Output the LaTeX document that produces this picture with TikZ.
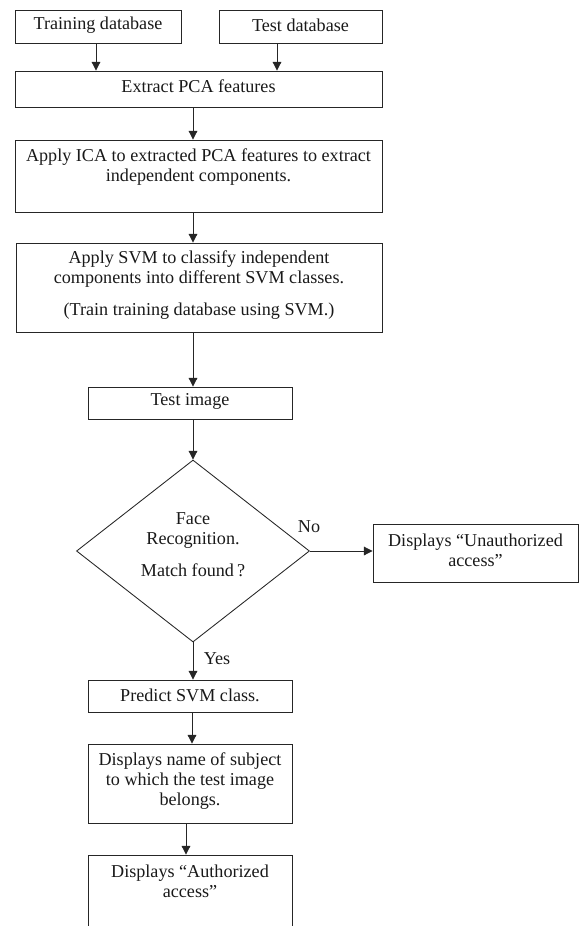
\documentclass[tikz,border=0pt]{standalone}
\usepackage{fontspec}
\setmainfont{Liberation Serif}
\usetikzlibrary{arrows.meta,shapes.geometric,calc}
\tikzset{
  box/.style={draw=black!85, line width=0.65pt, rectangle, inner sep=0pt},
  dia/.style={draw=black!85, line width=0.65pt, diamond, inner sep=0pt},
  txt/.style={align=center, inner sep=0pt, font=\fontsize{13.6}{15}\selectfont, text=black!90},
  arr/.style={draw=black!85, line width=0.65pt, -{Triangle[length=6.5pt,width=6.5pt]}},
}
\begin{document}
\begin{tikzpicture}[x=0.75pt,y=-0.75pt]
\useasboundingbox (0,0) rectangle (579,926);
\clip (0,0) rectangle (579,926);
% boxes
\node[box, minimum width={166*0.75pt}, minimum height={33*0.75pt}] (train) at (98,26.5) {};
\node[txt] (train-t) at (98,25) {Training database};
\node[box, minimum width={163*0.75pt}, minimum height={33*0.75pt}] (testdb) at (300.5,26.5) {};
\node[txt] (testdb-t) at (300.5,25) {Test database};
\node[box, minimum width={367*0.75pt}, minimum height={36*0.75pt}] (pca) at (198.5,89) {};
\node[txt] (pca-t) at (198.5,86) {Extract PCA features};
\node[box, minimum width={367*0.75pt}, minimum height={72*0.75pt}] (ica) at (198.5,176) {};
\node[txt, anchor=center] (ica-t) at (198.5,167) {Apply ICA to extracted PCA features to extract\\independent components.};
\node[box, minimum width={366*0.75pt}, minimum height={89*0.75pt}] (svm) at (199,287.5) {};
\node[txt] (svm-t) at (199,285) {Apply SVM to classify independent\\components into different SVM classes.\\[9pt](Train training database using SVM.)};
\node[box, minimum width={204*0.75pt}, minimum height={32*0.75pt}] (testimg) at (190,403) {};
\node[txt] (testimg-t) at (190,401) {Test image};
\node[dia, minimum width={233*0.75pt}, minimum height={182*0.75pt}] (dec) at (193,551) {};
\node[txt] (dec-t) at (193,545) {Face\\Recognition.\\[9pt]Match found\,?};
\node[box, minimum width={205*0.75pt}, minimum height={58*0.75pt}] (unauth) at (475.5,553) {};
\node[txt] (unauth-t) at (475.5,550) {Displays “Unauthorized\\access”};
\node[box, minimum width={204*0.75pt}, minimum height={32*0.75pt}] (predict) at (190,696) {};
\node[txt] (predict-t) at (190,695) {Predict SVM class.};
\node[box, minimum width={204*0.75pt}, minimum height={79*0.75pt}] (name) at (190,783.5) {};
\node[txt] (name-t) at (190,781) {Displays name of subject\\to which the test image\\belongs.};
\node[box, minimum width={204*0.75pt}, minimum height={110*0.75pt}] (auth) at (190,910) {};
\node[txt] (auth-t) at (190,881.5) {Displays “Authorized\\access”};
% labels
\node[txt] (no) at (309,527) {No};
\node[txt] (yes) at (217,659) {Yes};
% arrows
\draw[arr] ([xshift={-2*0.75pt}]train.south) -- ([xshift={-2*0.75pt}]train.south |- pca.north);
\draw[arr] ([xshift={-23.5*0.75pt}]testdb.south) -- ([xshift={-23.5*0.75pt}]testdb.south |- pca.north);
\draw[arr] (pca.south -| dec.north) -- (ica.north -| dec.north);
\draw[arr] (ica.south -| dec.north) -- (svm.north -| dec.north);
\draw[arr] (svm.south -| dec.north) -- (testimg.north -| dec.north);
\draw[arr] (testimg.south -| dec.north) -- (dec.north);
\draw[arr] (dec.east) -- (unauth.west |- dec.east);
\draw[arr] (dec.south) -- (predict.north -| dec.south);
\draw[arr] ([xshift={2*0.75pt}]predict.south) -- ([xshift={2*0.75pt}]predict.south |- name.north);
\draw[arr] ([xshift={-4*0.75pt}]name.south) -- ([xshift={-4*0.75pt}]name.south |- auth.north);
\end{tikzpicture}
\end{document}
